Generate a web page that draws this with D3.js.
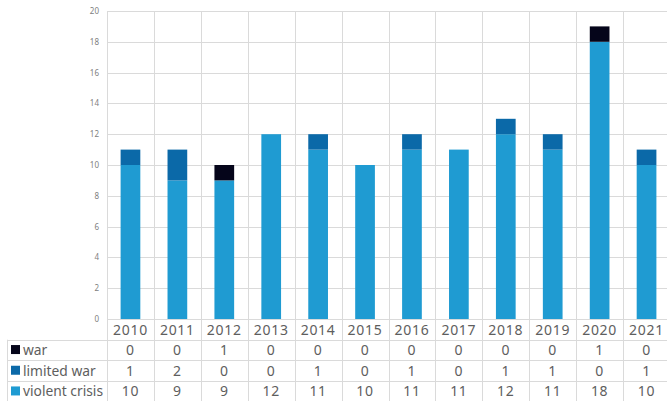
<!DOCTYPE html>
<html>
<head>
<meta charset="utf-8">
<script src="https://cdn.jsdelivr.net/npm/d3@7"></script>
<style>
body { margin: 0; background: #fff; }
text { font-family: "Noto Sans", sans-serif; }
</style>
</head>
<body>
<script>
var years = ["2010","2011","2012","2013","2014","2015","2016","2017","2018","2019","2020","2021"];
var war = [0,0,1,0,0,0,0,0,0,0,1,0];
var limitedWar = [1,2,0,0,1,0,1,0,1,1,0,1];
var violentCrisis = [10,9,9,12,11,10,11,11,12,11,18,10];

var seriesNames = ["war", "limited war", "violent crisis"];
var seriesColors = {"war": "#05051a", "limited war": "#0b69a8", "violent crisis": "#1f9bd2"};

var svg = d3.select("body").append("svg")
    .attr("width", 667)
    .attr("height", 401);

var margin = {left: 107, top: 11};
var plotRight = 670;
var plotBottom = 319;
var tableLeft = 7;
var rowH = 20.7;

var rows = years.map(function(y, i) {
  return {year: y, "war": war[i], "limited war": limitedWar[i], "violent crisis": violentCrisis[i]};
});

var x = d3.scaleBand()
    .domain(years)
    .range([margin.left, plotRight])
    .paddingInner(0).paddingOuter(0);

var y = d3.scaleLinear()
    .domain([0, 20])
    .range([plotBottom, margin.top]);

var grid = "#dadada";
var textCol = "#5e5e5e";

// horizontal gridlines
svg.append("g").selectAll("line")
  .data(y.ticks(10))
  .enter().append("line")
    .attr("x1", margin.left).attr("x2", plotRight)
    .attr("y1", function(d) { return Math.round(y(d)) + 0.5; })
    .attr("y2", function(d) { return Math.round(y(d)) + 0.5; })
    .attr("stroke", grid);

// vertical gridlines (chart + table)
svg.append("g").selectAll("line")
  .data(years)
  .enter().append("line")
    .attr("x1", function(d) { return Math.round(x(d)) + 0.5; })
    .attr("x2", function(d) { return Math.round(x(d)) + 0.5; })
    .attr("y1", margin.top)
    .attr("y2", 401)
    .attr("stroke", grid);

// y tick labels
svg.append("g").selectAll("text")
  .data(y.ticks(10))
  .enter().append("text")
    .attr("x", 99)
    .attr("y", function(d) { return y(d) + 3; })
    .attr("text-anchor", "end")
    .attr("font-size", 8)
    .attr("fill", "#808080")
    .text(function(d) { return d; });

// stacked bars
var stack = d3.stack().keys(["violent crisis", "limited war", "war"]);
var stacked = stack(rows);
var barW = x.bandwidth() * 0.42;

svg.append("g").selectAll("g")
  .data(stacked)
  .enter().append("g")
    .attr("fill", function(d) { return seriesColors[d.key]; })
  .selectAll("rect")
  .data(function(d) { return d.filter(function(p) { return p[1] > p[0]; }); })
  .enter().append("rect")
    .attr("x", function(d) { return x(d.data.year) + (x.bandwidth() - barW) / 2; })
    .attr("width", barW)
    .attr("y", function(d) { return y(d[1]); })
    .attr("height", function(d) { return y(d[0]) - y(d[1]); });

// table
var table = svg.append("g");
var rowTop = plotBottom + rowH;

// year row labels
table.selectAll("text.year")
  .data(years)
  .enter().append("text")
    .attr("class", "year")
    .attr("x", function(d) { return x(d) + x.bandwidth() / 2; })
    .attr("y", plotBottom + 15.5)
    .attr("text-anchor", "middle")
    .attr("font-size", 14)
    .attr("letter-spacing", 0.7)
    .attr("fill", textCol)
    .text(function(d) { return d; });

// horizontal table lines
[0, 1, 2].forEach(function(i) {
  var yy = Math.round(rowTop + i * rowH) + 0.5;
  table.append("line")
    .attr("x1", tableLeft).attr("x2", plotRight)
    .attr("y1", yy).attr("y2", yy)
    .attr("stroke", grid);
});
table.append("line")
  .attr("x1", tableLeft + 0.5).attr("x2", tableLeft + 0.5)
  .attr("y1", rowTop).attr("y2", 401)
  .attr("stroke", grid);

seriesNames.forEach(function(name, i) {
  var cy = rowTop + i * rowH + rowH / 2;
  table.append("rect")
    .attr("x", 11).attr("y", cy - 5)
    .attr("width", 9).attr("height", 9)
    .attr("fill", seriesColors[name]);
  table.append("text")
    .attr("x", 23).attr("y", cy + 5)
    .attr("font-size", 13.8)
    .attr("fill", textCol)
    .text(name);
  table.selectAll("text.v" + i)
    .data(rows)
    .enter().append("text")
      .attr("x", function(d) { return x(d.year) + x.bandwidth() / 2; })
      .attr("y", cy + 5)
      .attr("text-anchor", "middle")
      .attr("font-size", 14)
      .attr("letter-spacing", 0.7)
      .attr("fill", textCol)
      .text(function(d) { return d[name]; });
});
</script>
</body>
</html>
